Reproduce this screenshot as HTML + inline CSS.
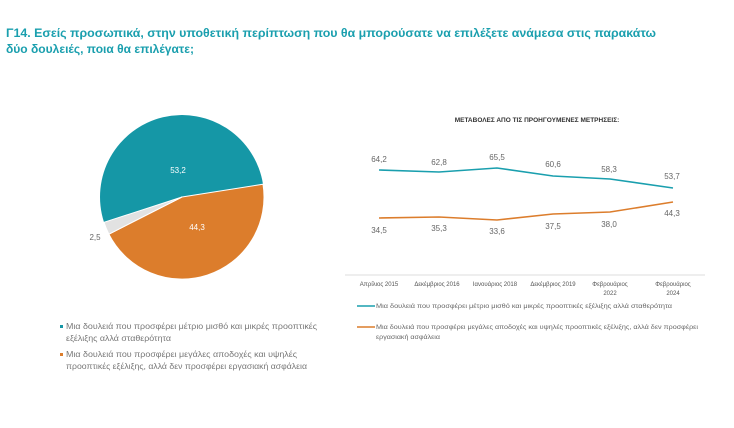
<!DOCTYPE html>
<html><head><meta charset="utf-8"><style>
body{margin:0;width:734px;height:423px;background:#fff;overflow:hidden;font-family:"Liberation Sans","DejaVu Sans",sans-serif;}
</style></head><body>
<svg width="734" height="423" xmlns="http://www.w3.org/2000/svg" font-family="Liberation Sans, DejaVu Sans, sans-serif">
<text x="6" y="37" font-size="12.2" font-weight="bold" fill="#1a9fae" textLength="650" lengthAdjust="spacingAndGlyphs">Γ14. Εσείς προσωπικά, στην υποθετική περίπτωση που θα μπορούσατε να επιλέξετε ανάμεσα στις παρακάτω</text>
<text x="6" y="53" font-size="12.2" font-weight="bold" fill="#1a9fae" textLength="188" lengthAdjust="spacingAndGlyphs">δύο δουλειές, ποια θα επιλέγατε;</text>
<!-- pie -->
<path d="M182,197 L104,222.3 A82,82 0 1 1 263,184.2 Z" fill="#1597a6"/>
<path d="M182,197 L263,184.2 A82,82 0 0 1 108.9,234.2 Z" fill="#dc7d2c" stroke="#fff" stroke-width="1"/>
<path d="M182,197 L108.9,234.2 A82,82 0 0 1 104,222.3 Z" fill="#e2e2e2" stroke="#fff" stroke-width="1"/>
<text x="178" y="173" font-size="8" fill="#fff" text-anchor="middle">53,2</text>
<text x="197" y="230" font-size="8" fill="#fff" text-anchor="middle">44,3</text>
<text x="95" y="240" font-size="8" fill="#666" text-anchor="middle">2,5</text>
<rect x="60" y="325" width="3" height="3" fill="#1597a6"/>
<text x="66" y="329" font-size="8" fill="#777" textLength="251" lengthAdjust="spacingAndGlyphs">Μια δουλειά που προσφέρει μέτριο μισθό και μικρές προοπτικές</text>
<text x="66" y="341" font-size="8" fill="#777" textLength="105" lengthAdjust="spacingAndGlyphs">εξέλιξης αλλά σταθερότητα</text>
<rect x="60" y="353" width="3" height="3" fill="#dc7d2c"/>
<text x="66" y="357" font-size="8" fill="#777" textLength="231" lengthAdjust="spacingAndGlyphs">Μια δουλειά που προσφέρει μεγάλες αποδοχές και υψηλές</text>
<text x="66" y="369" font-size="8" fill="#777" textLength="241" lengthAdjust="spacingAndGlyphs">προοπτικές εξέλιξης, αλλά δεν προσφέρει εργασιακή ασφάλεια</text>
<!-- line chart -->
<text x="537" y="122" font-size="6.5" font-weight="bold" fill="#333" text-anchor="middle">ΜΕΤΑΒΟΛΕΣ ΑΠΟ ΤΙΣ ΠΡΟΗΓΟΥΜΕΝΕΣ ΜΕΤΡΗΣΕΙΣ:</text>
<polyline points="379,170 439,172 497,168 553,176 610,179 673,188" fill="none" stroke="#1a9fae" stroke-width="1.6"/>
<polyline points="379,218 439,217 497,220 553,214 610,212 673,202" fill="none" stroke="#dc7d2c" stroke-width="1.6"/>
<g font-size="8" fill="#666" text-anchor="middle">
<text x="379" y="162">64,2</text><text x="439" y="165">62,8</text><text x="497" y="160">65,5</text><text x="553" y="167">60,6</text><text x="609" y="172">58,3</text><text x="672" y="179">53,7</text>
<text x="379" y="233">34,5</text><text x="439" y="231">35,3</text><text x="497" y="234">33,6</text><text x="553" y="229">37,5</text><text x="609" y="227">38,0</text><text x="672" y="216">44,3</text>
</g>
<line x1="345" y1="275" x2="705" y2="275" stroke="#ddd" stroke-width="1"/>
<g font-size="6" fill="#555" text-anchor="middle">
<text x="379" y="286">Απρίλιος 2015</text><text x="437" y="286">Δεκέμβριος 2016</text><text x="495" y="286">Ιανουάριος 2018</text><text x="553" y="286">Δεκέμβριος 2019</text>
<text x="610" y="286">Φεβρουάριος</text><text x="610" y="295">2022</text><text x="673" y="286">Φεβρουάριος</text><text x="673" y="295">2024</text>
</g>
<line x1="357" y1="306" x2="375" y2="306" stroke="#1a9fae" stroke-width="1.5"/>
<text x="376" y="308" font-size="6" fill="#666" textLength="296" lengthAdjust="spacingAndGlyphs">Μια δουλειά που προσφέρει μέτριο μισθό και μικρές προοπτικές εξέλιξης αλλά σταθερότητα</text>
<line x1="357" y1="327" x2="375" y2="327" stroke="#dc7d2c" stroke-width="1.5"/>
<text x="376" y="329" font-size="6" fill="#666" textLength="322" lengthAdjust="spacingAndGlyphs">Μια δουλειά που προσφέρει μεγάλες αποδοχές και υψηλές προοπτικές εξέλιξης, αλλά δεν προσφέρει</text>
<text x="376" y="339" font-size="6" fill="#666" textLength="64" lengthAdjust="spacingAndGlyphs">εργασιακή ασφάλεια</text>
</svg>
</body></html>
